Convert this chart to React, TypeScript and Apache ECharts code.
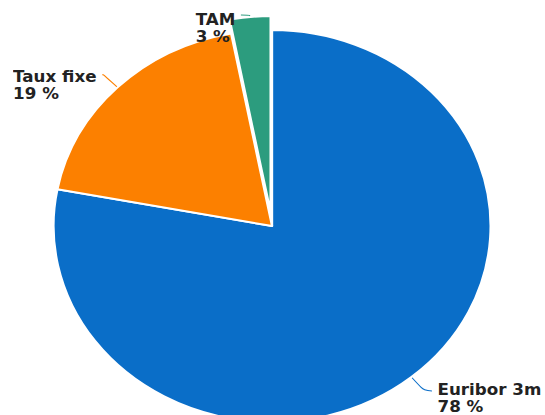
import React, { useEffect, useRef } from "react";
import * as echarts from "echarts";

const categories = ["Euribor 3m", "Taux fixe", "TAM"];
const values = [78, 19, 3];
const colors = ["#0a6ec8", "#fc8000", "#2c9c7e"];

const SX = 1.115;
const W = 545;
const H = 415;

const txt = {
  fontFamily: "DejaVu Sans",
  fontWeight: "bold" as const,
  fontSize: 15,
  lineHeight: 17,
  color: "#222222",
  align: "left" as const,
};

export default function App() {
  const ref = useRef<HTMLDivElement>(null);
  useEffect(() => {
    if (!ref.current) return;
    const chart = echarts.init(ref.current, undefined, { renderer: "svg" });
    const lines: Record<string, { length: number; length2: number; pad: number }> = {
      "Euribor 3m": { length: 18, length2: 7, pad: 14 },
      "Taux fixe": { length: 18, length2: 1, pad: 21 },
      TAM: { length: 2, length2: 8, pad: 27 },
    };
    chart.setOption({
      animation: false,
      series: [
        {
          type: "pie",
          center: [244, 226],
          radius: 196,
          startAngle: 90,
          clockwise: true,
          selectedMode: "single",
          selectedOffset: 14,
          avoidLabelOverlap: false,
          itemStyle: { borderColor: "#ffffff", borderWidth: 2 },
          label: {
            show: true,
            formatter: "{n|{b}}\n{n|{c} %}",
            ...txt,
            rich: { n: { ...txt } },
          },
          labelLine: { show: true, smooth: 0.4, lineStyle: { width: 1 } },
          data: categories.map((name, i) => ({
            name,
            value: values[i],
            selected: name === "TAM",
            itemStyle: { color: colors[i] },
            label: { padding: [lines[name].pad, 0, 0, 0] },
            labelLine: { length: lines[name].length, length2: lines[name].length2 },
          })),
        },
      ],
    });
    return () => chart.dispose();
  }, []);
  return (
    <div
      style={{
        position: "fixed",
        left: 0,
        top: 0,
        width: W,
        height: H,
        overflow: "hidden",
        background: "#ffffff",
      }}
    >
      <div
        ref={ref}
        style={{
          width: W / SX,
          height: H,
          transform: `scaleX(${SX})`,
          transformOrigin: "0 0",
        }}
      />
    </div>
  );
}
